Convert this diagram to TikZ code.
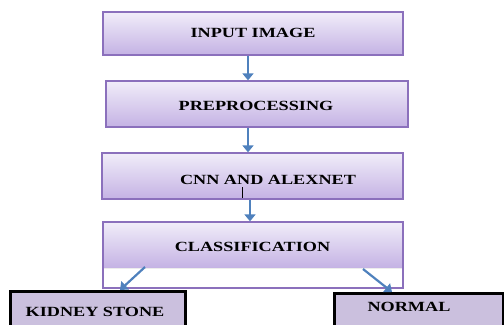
\documentclass[tikz,border=0pt]{standalone}
\usepackage{fontspec}
\newfontfamily\boxfont{Liberation Serif}[FakeStretch=1.3]
\usetikzlibrary{arrows.meta,calc}
\definecolor{boxtop}{HTML}{F1EDF9}
\definecolor{boxbot}{HTML}{C4B2E4}
\definecolor{boxline}{HTML}{8B70BC}
\definecolor{arrblue}{HTML}{4F81BD}
\definecolor{leaf}{HTML}{CBC0DE}
\tikzset{
  stage/.style={draw=boxline, line width=1.3bp, top color=boxtop, bottom color=boxbot,
    minimum width=300bp, inner sep=0pt},
  frame/.style={draw=boxline, line width=1.3bp, inner sep=0pt},
  leafbox/.style={draw=black, line width=3bp, fill=leaf},
  lbl/.style={font=\boxfont\bfseries\fontsize{14bp}{16bp}\selectfont, inner sep=0pt},
  arr/.style={draw=arrblue, line width=2.2bp, -{Triangle[width=11bp,length=7bp]}},
}
\begin{document}
\begin{tikzpicture}[x=1bp,y=-1bp]
\useasboundingbox (0,0) rectangle (504,324);
\clip (0,0) rectangle (504,324);
% leaf boxes (cut by bottom edge)
\path[leafbox] (10,291) rectangle (185,345);
\path[leafbox] (334,293) rectangle (503,345);
\node[lbl] (kidney) at (95,312) {KIDNEY STONE};
\node[lbl] (normal) at (409,307) {NORMAL};
% stage boxes
\node[stage, minimum height=43bp] (input) at (253,33.5) {};
\node[lbl] (tinput) at (253,32.5) {INPUT IMAGE};
\node[stage, minimum width=302bp, minimum height=46bp] (prep) at (257,104) {};
\node[lbl] (tprep) at (256,106) {PREPROCESSING};
\node[stage, minimum width=301bp, minimum height=46bp] (cnn) at (252.5,176) {};
\node[lbl] (tcnn) at (268,180) {CNN AND ALEXNET};
\draw[black, line width=0.6bp] (242,187) -- (242,198);
% classification: gradient upper part, white lower part
\shade[top color=boxtop, bottom color=boxbot] (103,222) rectangle (403,268);
\draw[white!85!gray, line width=0.8bp] (103,268) -- (403,268);
\node[frame, minimum width=300bp, minimum height=66bp] (cls) at (253,255) {};
\node[lbl] (tcls) at (252.5,247) {CLASSIFICATION};
% connectors
\coordinate (a1) at (248,0);
\coordinate (a3) at (250,0);
\draw[arr] (input.south -| a1) -- (prep.north -| a1);
\draw[arr] (prep.south -| a1) -- (cnn.north -| a1);
\draw[arr] (cnn.south -| a3) -- (cls.north -| a3);
\coordinate (ls) at (145,267);
\coordinate (le) at (120,290);
\coordinate (rs) at (363,269);
\coordinate (re) at (392,292);
\draw[arr] (ls) -- (le);
\draw[arr] (rs) -- (re);
\end{tikzpicture}
\end{document}
